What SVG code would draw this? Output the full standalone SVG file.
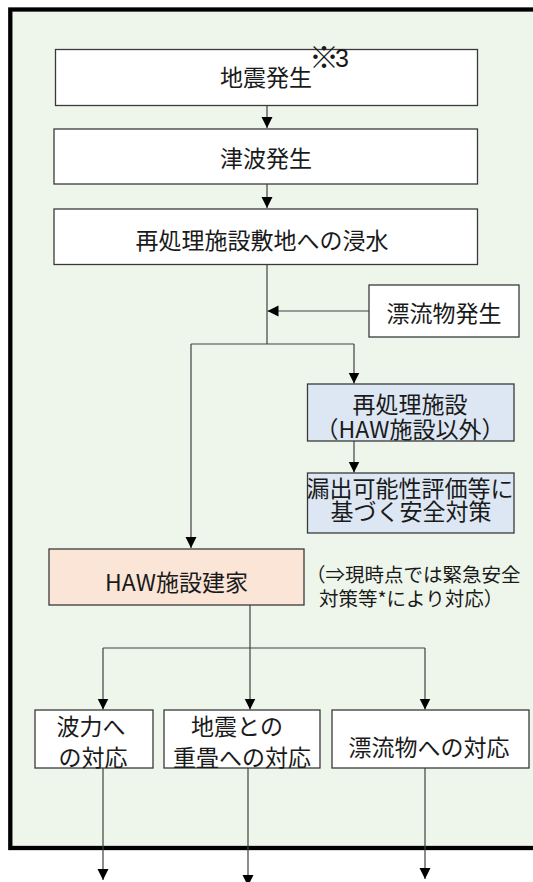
<svg xmlns="http://www.w3.org/2000/svg" width="533" height="882" viewBox="0 0 533 882">
<style>
.bx{stroke:#3a3a3a;stroke-width:1.3}
.w{fill:#ffffff}
.b{fill:#DDE7F3}
.p{fill:#FBE5D6}
.t{font-family:"Noto Sans CJK JP","Noto Sans CJK SC",sans-serif;font-size:23px;fill:#1a1a1a;text-anchor:middle}
.s{font-family:"Noto Sans CJK JP","Noto Sans CJK SC",sans-serif;font-size:19.5px;fill:#1a1a1a}
.c{fill:none;stroke:#404040;stroke-width:1.2}
</style>
<defs>
<marker id="ah" markerUnits="userSpaceOnUse" markerWidth="12" markerHeight="12" viewBox="0 0 12 12" refX="11" refY="6" orient="auto">
<path d="M0,0.5 L11,6 L0,11.5 Z" fill="#000"/>
</marker>
</defs>
<rect id="frame" x="10.3" y="9.5" width="560" height="838.5" fill="#EEF6EC" stroke="#000" stroke-width="4.3"/>
<g id="connectors">
<line class="c" x1="267" y1="106" x2="267" y2="128" marker-end="url(#ah)"/>
<line class="c" x1="267" y1="184" x2="267" y2="208" marker-end="url(#ah)"/>
<polyline class="c" points="267,265 267,344"/>
<line class="c" x1="369" y1="311" x2="267.5" y2="311" marker-end="url(#ah)"/>
<polyline class="c" points="191,344 354,344"/>
<polyline class="c" points="191,344 191,548" marker-end="url(#ah)"/>
<polyline class="c" points="354,344 354,383.5" marker-end="url(#ah)"/>
<line class="c" x1="354" y1="441" x2="354" y2="472.5" marker-end="url(#ah)"/>
<polyline class="c" points="250,605 250,648"/>
<polyline class="c" points="103,648 425,648"/>
<line class="c" x1="103" y1="648" x2="103" y2="709.5" marker-end="url(#ah)"/>
<line class="c" x1="250" y1="648" x2="250" y2="709.5" marker-end="url(#ah)"/>
<line class="c" x1="425" y1="648" x2="425" y2="709.5" marker-end="url(#ah)"/>
<line class="c" x1="103" y1="768" x2="103" y2="880" marker-end="url(#ah)"/>
<line class="c" x1="248" y1="768" x2="248" y2="886" marker-end="url(#ah)"/>
<line class="c" x1="425" y1="768" x2="425" y2="879" marker-end="url(#ah)"/>
</g>
<g id="n1">
<rect class="bx w" x="55.5" y="49.5" width="422" height="56"/>
<text class="t" x="266" y="86">地震発生</text>
<text x="309" y="68" style="font-family:'Noto Sans CJK JP',sans-serif;font-size:30px;fill:#1a1a1a">※<tspan dx="-4" dy="-1" style="font-family:'Liberation Sans',sans-serif;font-size:25px">3</tspan></text>
</g>
<g id="n2">
<rect class="bx w" x="54" y="129" width="423.5" height="55"/>
<text class="t" x="266" y="166.5">津波発生</text>
</g>
<g id="n3">
<rect class="bx w" x="54" y="209" width="423.5" height="55.5"/>
<text class="t" x="262" y="248.5">再処理施設敷地への浸水</text>
</g>
<g id="n4">
<rect class="bx w" x="369" y="285" width="150" height="52"/>
<text class="t" x="444" y="322">漂流物発生</text>
</g>
<g id="n5">
<rect class="bx b" x="307.5" y="384" width="206.5" height="57"/>
<text class="t" x="410" y="413">再処理施設</text>
<text class="t" x="410" y="437.5">（HAW施設以外）</text>
</g>
<g id="n6">
<rect class="bx b" x="307.5" y="473" width="206.5" height="60"/>
<text class="t" x="410" y="497">漏出可能性評価等に</text>
<text class="t" x="411" y="520">基づく安全対策</text>
</g>
<g id="n7">
<rect class="bx p" x="49" y="549" width="255" height="56"/>
<text class="t" x="176.5" y="590.5">HAW施設建家</text>
</g>
<g id="note">
<text class="s" x="306" y="582">（⇒現時点では緊急安全</text>
<text class="s" x="319" y="606">対策等*により対応）</text>
</g>
<g id="n8">
<rect class="bx w" x="35" y="710" width="118" height="58"/>
<text class="t" x="91" y="735">波力へ</text>
<text class="t" x="93" y="766">の対応</text>
</g>
<g id="n9">
<rect class="bx w" x="164" y="710" width="156" height="58"/>
<text class="t" x="237" y="735">地震との</text>
<text class="t" x="242" y="766">重畳への対応</text>
</g>
<g id="n10">
<rect class="bx w" x="332" y="710" width="197" height="58"/>
<text class="t" x="429" y="756">漂流物への対応</text>
</g>
</svg>
